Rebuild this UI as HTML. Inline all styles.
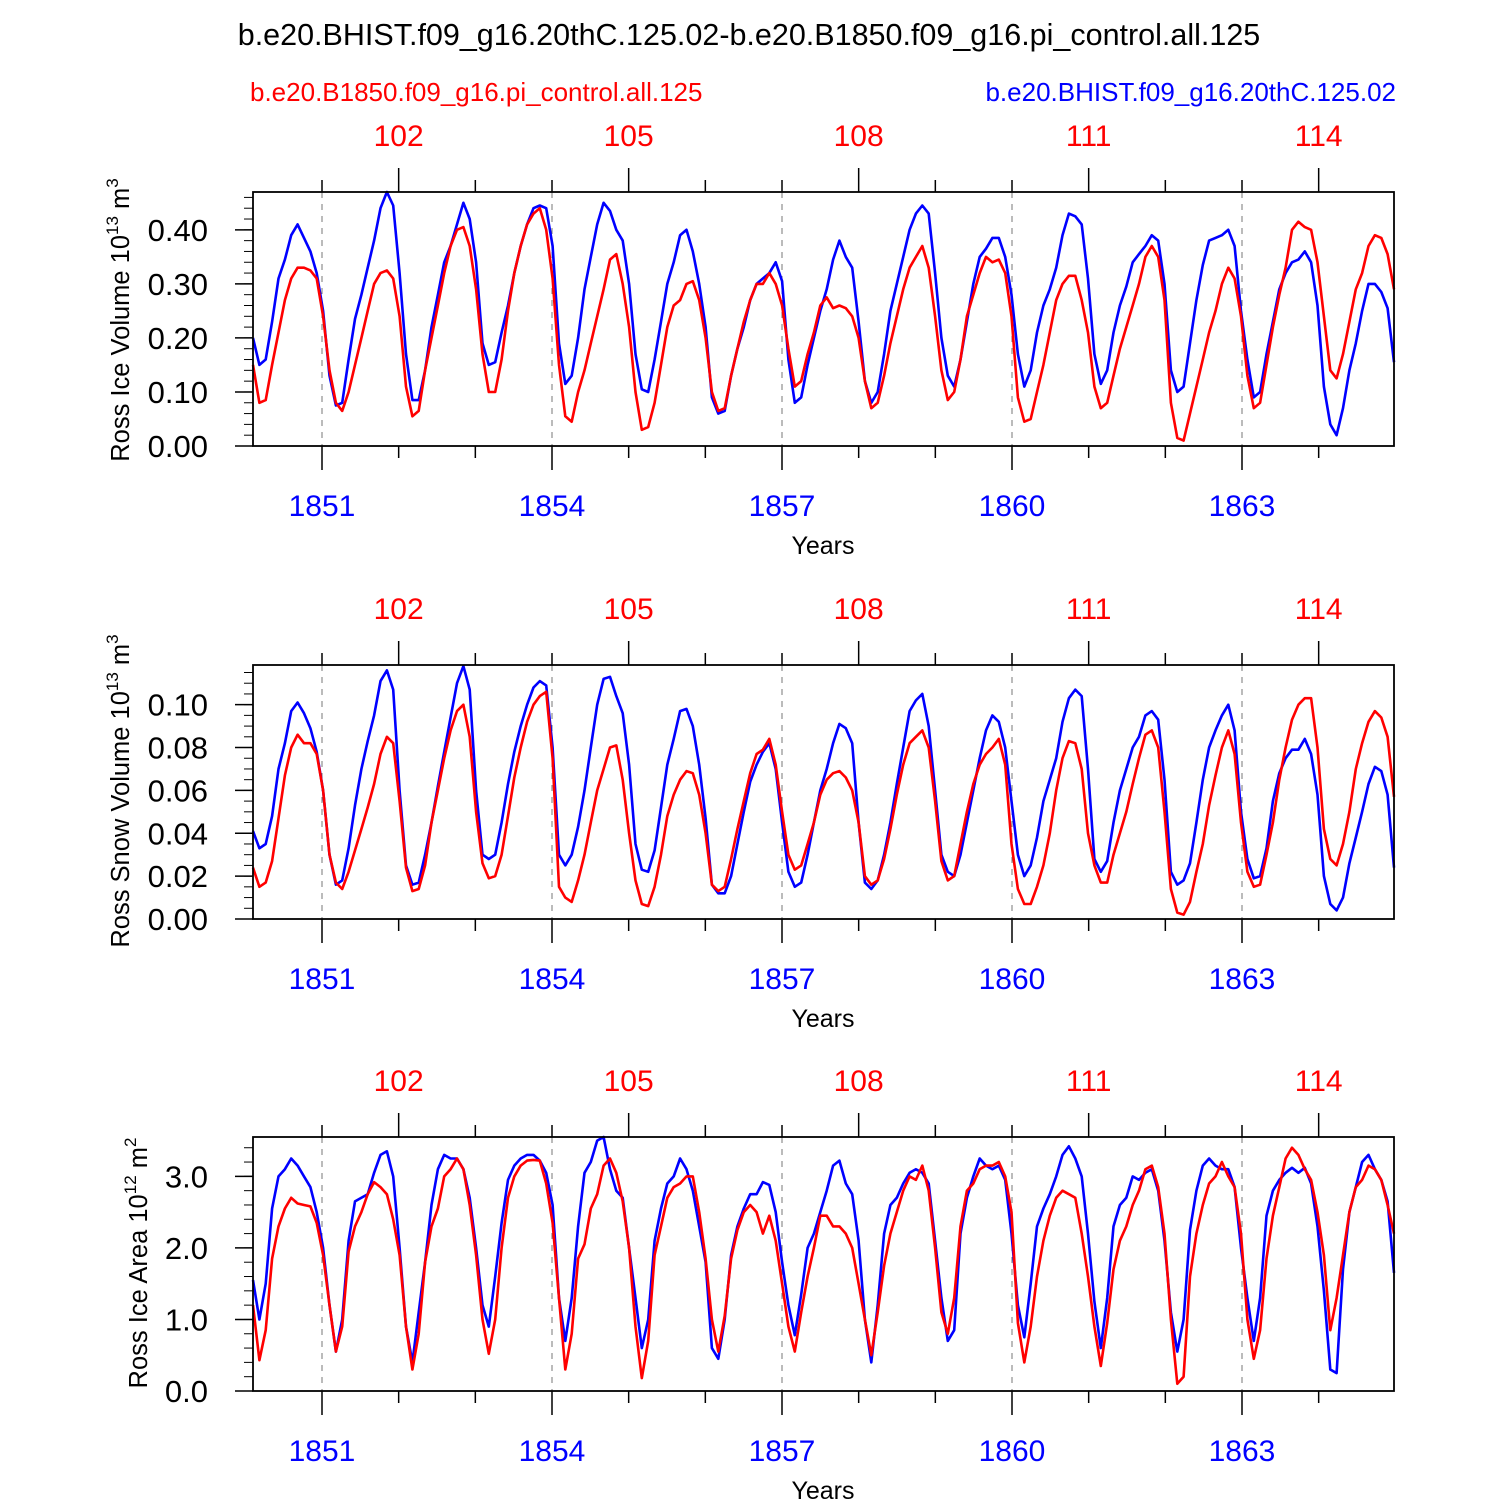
<!DOCTYPE html>
<html><head><meta charset="utf-8"><style>
html,body{margin:0;padding:0;background:#fff}
svg{display:block}
text{font-family:"Liberation Sans",Arial,sans-serif}
</style></head><body>
<svg id="chart" width="1500" height="1500" viewBox="0 0 1500 1500" xmlns="http://www.w3.org/2000/svg">
<text x="749" y="45" font-size="30.5" text-anchor="middle">b.e20.BHIST.f09_g16.20thC.125.02-b.e20.B1850.f09_g16.pi_control.all.125</text>
<text x="250" y="101" font-size="26" fill="#ff0000">b.e20.B1850.f09_g16.pi_control.all.125</text>
<text x="1396" y="101" font-size="26" fill="#0000ff" text-anchor="end">b.e20.BHIST.f09_g16.20thC.125.02</text>
</svg>
<script>
// ---- data ----
const blueYears = [1851, 1854, 1857, 1860, 1863];
const redYears = [102, 105, 108, 111, 114];
const iceVolTicks = ["0.00","0.10","0.20","0.30","0.40"];
const snowVolTicks = ["0.00","0.02","0.04","0.06","0.08","0.10"];
const areaTicks = ["0.0","1.0","2.0","3.0"];

const iceVolHist = [
0.20,0.15,0.16,0.23,0.31,0.345,0.39,0.41,0.385,0.36,0.32,0.25,
0.13,0.075,0.08,0.16,0.235,0.28,0.33,0.38,0.44,0.47,0.445,0.32,
0.17,0.085,0.085,0.14,0.22,0.28,0.34,0.37,0.41,0.45,0.42,0.34,
0.19,0.15,0.155,0.21,0.26,0.32,0.37,0.41,0.44,0.445,0.44,0.37,
0.19,0.115,0.13,0.2,0.29,0.35,0.41,0.45,0.435,0.40,0.38,0.30,
0.17,0.105,0.10,0.16,0.23,0.30,0.34,0.39,0.40,0.36,0.30,0.22,
0.09,0.06,0.065,0.13,0.18,0.22,0.27,0.30,0.31,0.32,0.34,0.305,
0.16,0.08,0.09,0.15,0.20,0.25,0.29,0.345,0.38,0.35,0.33,0.23,
0.12,0.08,0.10,0.17,0.25,0.30,0.35,0.40,0.43,0.445,0.43,0.32,
0.20,0.13,0.11,0.16,0.23,0.30,0.35,0.365,0.385,0.385,0.35,0.28,
0.17,0.11,0.14,0.21,0.26,0.29,0.33,0.39,0.43,0.425,0.41,0.31,
0.17,0.115,0.14,0.21,0.26,0.295,0.34,0.355,0.37,0.39,0.38,0.30,
0.14,0.10,0.11,0.19,0.27,0.335,0.38,0.385,0.39,0.40,0.37,0.25,
0.16,0.09,0.10,0.17,0.23,0.29,0.32,0.34,0.345,0.36,0.34,0.26,
0.11,0.04,0.02,0.07,0.14,0.19,0.25,0.30,0.30,0.285,0.255,0.155];
const iceVolCtrl = [
0.15,0.08,0.085,0.15,0.21,0.27,0.31,0.33,0.33,0.325,0.31,0.24,
0.14,0.08,0.065,0.1,0.15,0.2,0.25,0.3,0.32,0.325,0.31,0.24,
0.11,0.055,0.065,0.14,0.2,0.26,0.32,0.37,0.40,0.405,0.37,0.29,
0.17,0.10,0.10,0.16,0.25,0.32,0.37,0.41,0.43,0.44,0.40,0.31,
0.15,0.055,0.045,0.10,0.14,0.19,0.24,0.29,0.345,0.355,0.30,0.22,
0.10,0.03,0.035,0.08,0.15,0.22,0.26,0.27,0.30,0.305,0.27,0.20,
0.10,0.065,0.07,0.13,0.18,0.23,0.27,0.30,0.30,0.32,0.30,0.26,
0.18,0.11,0.12,0.17,0.21,0.26,0.275,0.255,0.26,0.255,0.24,0.2,
0.12,0.07,0.08,0.13,0.19,0.24,0.29,0.33,0.35,0.37,0.33,0.24,
0.14,0.085,0.10,0.16,0.24,0.28,0.32,0.35,0.34,0.345,0.32,0.24,
0.09,0.045,0.05,0.10,0.15,0.21,0.27,0.30,0.315,0.315,0.27,0.21,
0.11,0.07,0.08,0.13,0.18,0.22,0.26,0.30,0.35,0.37,0.35,0.27,
0.08,0.015,0.01,0.06,0.11,0.16,0.21,0.25,0.30,0.33,0.31,0.24,
0.13,0.07,0.08,0.15,0.22,0.28,0.33,0.40,0.415,0.405,0.40,0.34,
0.24,0.14,0.125,0.17,0.23,0.29,0.32,0.37,0.39,0.385,0.355,0.29];

const snowVolHist = [
0.041,0.033,0.035,0.048,0.07,0.082,0.097,0.101,0.096,0.089,0.078,0.06,
0.03,0.016,0.018,0.033,0.053,0.07,0.083,0.095,0.111,0.116,0.107,0.06,
0.025,0.016,0.017,0.03,0.045,0.062,0.078,0.094,0.11,0.118,0.107,0.06,
0.03,0.028,0.03,0.045,0.063,0.078,0.09,0.1,0.108,0.111,0.109,0.08,
0.03,0.025,0.03,0.043,0.06,0.08,0.1,0.112,0.113,0.104,0.096,0.072,
0.035,0.023,0.022,0.032,0.052,0.072,0.084,0.097,0.098,0.09,0.072,0.047,
0.016,0.012,0.012,0.02,0.035,0.05,0.064,0.072,0.078,0.082,0.07,0.045,
0.022,0.015,0.017,0.03,0.045,0.06,0.07,0.082,0.091,0.089,0.082,0.045,
0.017,0.014,0.018,0.03,0.045,0.063,0.08,0.097,0.102,0.105,0.09,0.06,
0.03,0.022,0.02,0.03,0.045,0.06,0.075,0.088,0.095,0.092,0.08,0.055,
0.03,0.02,0.025,0.038,0.055,0.065,0.075,0.092,0.103,0.107,0.104,0.07,
0.028,0.022,0.027,0.045,0.06,0.07,0.08,0.085,0.095,0.097,0.093,0.065,
0.022,0.016,0.018,0.026,0.045,0.065,0.08,0.088,0.095,0.1,0.088,0.05,
0.028,0.019,0.02,0.033,0.055,0.068,0.075,0.079,0.079,0.084,0.077,0.058,
0.02,0.007,0.004,0.01,0.026,0.038,0.05,0.063,0.071,0.069,0.058,0.024];
const snowVolCtrl = [
0.024,0.015,0.017,0.027,0.047,0.067,0.08,0.086,0.082,0.082,0.077,0.06,
0.03,0.017,0.014,0.022,0.032,0.042,0.052,0.063,0.077,0.085,0.082,0.055,
0.024,0.013,0.014,0.025,0.045,0.06,0.075,0.088,0.097,0.1,0.085,0.05,
0.026,0.019,0.02,0.03,0.048,0.066,0.08,0.092,0.1,0.104,0.106,0.075,
0.015,0.01,0.008,0.018,0.03,0.045,0.06,0.07,0.08,0.081,0.065,0.04,
0.018,0.007,0.006,0.015,0.03,0.048,0.058,0.065,0.069,0.068,0.058,0.04,
0.016,0.013,0.015,0.028,0.042,0.055,0.068,0.077,0.079,0.084,0.072,0.05,
0.03,0.023,0.025,0.035,0.045,0.058,0.065,0.068,0.069,0.066,0.06,0.045,
0.02,0.016,0.018,0.028,0.042,0.058,0.072,0.082,0.085,0.088,0.08,0.055,
0.027,0.018,0.02,0.035,0.05,0.063,0.072,0.077,0.08,0.084,0.072,0.035,
0.014,0.007,0.007,0.015,0.025,0.04,0.06,0.075,0.083,0.082,0.07,0.04,
0.025,0.017,0.017,0.03,0.04,0.05,0.063,0.075,0.086,0.088,0.08,0.05,
0.014,0.003,0.002,0.008,0.022,0.035,0.053,0.067,0.08,0.088,0.077,0.045,
0.022,0.015,0.016,0.03,0.045,0.065,0.08,0.093,0.1,0.103,0.103,0.08,
0.042,0.028,0.025,0.035,0.05,0.07,0.082,0.092,0.097,0.094,0.085,0.057];

const areaHist = [
1.55,1.0,1.5,2.55,3.0,3.1,3.25,3.15,3.0,2.85,2.5,2.0,
1.2,0.55,1.0,2.1,2.65,2.7,2.75,3.05,3.3,3.35,3.0,2.0,
0.9,0.4,1.1,1.8,2.6,3.1,3.3,3.25,3.25,3.1,2.7,2.0,
1.2,0.9,1.6,2.35,2.95,3.15,3.25,3.3,3.3,3.22,3.05,2.6,
1.3,0.7,1.3,2.3,3.05,3.2,3.5,3.55,3.1,2.8,2.7,2.0,
1.3,0.6,1.0,2.1,2.55,2.9,3.0,3.25,3.1,2.8,2.3,1.8,
0.6,0.45,1.0,1.9,2.3,2.55,2.75,2.75,2.92,2.88,2.5,1.8,
1.2,0.78,1.35,2.0,2.2,2.5,2.8,3.15,3.22,2.9,2.75,2.1,
1.0,0.4,1.2,2.2,2.6,2.7,2.9,3.05,3.1,3.05,2.9,2.1,
1.3,0.7,0.85,2.2,2.7,3.0,3.25,3.15,3.1,3.15,2.95,2.2,
1.2,0.75,1.5,2.3,2.55,2.75,3.0,3.3,3.42,3.25,3.0,2.2,
1.25,0.6,1.3,2.3,2.6,2.7,3.0,2.95,3.05,3.1,2.8,2.1,
1.1,0.55,1.0,2.25,2.8,3.15,3.25,3.15,3.1,3.1,2.85,2.0,
1.3,0.7,1.3,2.45,2.8,2.95,3.05,3.12,3.05,3.12,2.9,2.3,
1.4,0.3,0.25,1.7,2.5,2.85,3.2,3.3,3.1,2.95,2.65,1.65];
const areaCtrl = [
1.2,0.43,0.85,1.85,2.3,2.55,2.7,2.62,2.6,2.58,2.35,1.9,
1.2,0.55,0.9,1.95,2.3,2.5,2.75,2.92,2.85,2.75,2.4,1.9,
0.9,0.3,0.8,1.8,2.3,2.55,3.0,3.1,3.25,3.1,2.6,1.9,
1.0,0.52,1.0,2.0,2.7,3.0,3.15,3.22,3.23,3.22,2.9,2.35,
1.3,0.3,0.8,1.85,2.05,2.55,2.75,3.15,3.25,3.05,2.65,2.0,
0.9,0.18,0.7,1.9,2.3,2.7,2.85,2.9,3.0,3.0,2.5,1.85,
1.0,0.55,1.05,1.85,2.25,2.5,2.6,2.5,2.2,2.45,2.1,1.5,
0.9,0.55,1.1,1.6,2.0,2.45,2.45,2.3,2.3,2.2,2.0,1.5,
1.0,0.5,1.1,1.75,2.2,2.5,2.8,3.0,2.95,3.15,2.8,2.0,
1.1,0.8,1.3,2.3,2.8,2.9,3.1,3.15,3.15,3.2,3.0,2.5,
0.95,0.4,0.9,1.6,2.1,2.45,2.7,2.8,2.75,2.7,2.2,1.6,
0.9,0.35,0.95,1.7,2.1,2.3,2.6,2.8,3.1,3.15,2.85,2.2,
1.0,0.1,0.2,1.6,2.2,2.6,2.9,3.0,3.2,3.0,2.85,2.2,
1.0,0.45,0.85,1.85,2.45,2.85,3.25,3.4,3.3,3.1,2.95,2.5,
1.9,0.85,1.3,1.9,2.5,2.85,2.95,3.15,3.1,2.95,2.6,2.2];

// ---- drawing ----
const NS = "http://www.w3.org/2000/svg";
const svg = document.getElementById("chart");
const X0 = 253, X1 = 1394;
const NPTS = 180;
function xIdx(i){ return X0 + i*(X1-X0)/(NPTS-1); }
const yearPx = 230/3;
function xYear(yr){ return 322 + (yr-1851)*yearPx; }
function mk(tag, attrs){
  const e = document.createElementNS(NS, tag);
  for (const k in attrs) e.setAttribute(k, attrs[k]);
  svg.appendChild(e);
  return e;
}

function drawPanel(p){
  const top = p.top, bot = p.top + 254;
  const yv = v => bot - (v - 0) / p.ymax * (bot - top);
  blueYears.forEach(yr => {
    const g = mk("line", {x1:xYear(yr), x2:xYear(yr), y1:top, y2:bot, stroke:"#777", "stroke-width":1, "stroke-dasharray":"6,6"});
    
    
  });
  for (let yr = 1851; yr <= 1864; yr++){
    const major = (yr - 1851) % 3 === 0;
    const xx = xYear(yr);
    const tb = mk("line", {x1:xx, x2:xx, y1:bot, y2:bot + (major?24:12), stroke:"#000", "stroke-width":1.5});
    
    
    const redMajor = (yr - 1852) % 3 === 0;
    const tt = mk("line", {x1:xx, x2:xx, y1:top, y2:top - (redMajor?24:12), stroke:"#000", "stroke-width":1.5});
    
    
  }
  blueYears.forEach(yr => {
    const t = mk("text", {x:xYear(yr), y:bot + 70, "font-size":30, fill:"#0000ff", "text-anchor":"middle"});
    t.textContent = yr;
    
    
  });
  redYears.forEach(yr => {
    const t = mk("text", {x:xYear(yr + 1750), y:top - 46, "font-size":30, fill:"#ff0000", "text-anchor":"middle"});
    t.textContent = yr;
    
    
  });
  const xt = mk("text", {x:823, y:bot + 108, "font-size":25, "text-anchor":"middle"});
  xt.textContent = "Years";
  
  
  for (let v = 0; v <= p.ymax + 1e-9; v += p.minor){
    const mt = mk("line", {x1:X0 - 9, x2:X0, y1:yv(v), y2:yv(v), stroke:"#000", "stroke-width":1});
    
    
  }
  p.ticks.forEach(lbl => {
    const v = parseFloat(lbl);
    const t = mk("line", {x1:X0 - 18, x2:X0, y1:yv(v), y2:yv(v), stroke:"#000", "stroke-width":1.5});
    
    
    const tx = mk("text", {x:X0 - 45, y:yv(v) + 11, "font-size":31, "text-anchor":"end"});
    tx.textContent = lbl;
    
    
  });
  [[p.hist, "#0000ff", "hist-series-line"], [p.ctrl, "#ff0000", "control-series-line"]].forEach(([arr, col, nm]) => {
    const d = arr.map((v, i) => (i ? "L" : "M") + xIdx(i).toFixed(1) + "," + yv(v).toFixed(1)).join(" ");
    const pl = mk("path", {d:d, fill:"none", stroke:col, "stroke-width":2.6, "stroke-linejoin":"round"});
    
    
  });
  const fr = mk("rect", {x:X0, y:top, width:X1 - X0, height:bot - top, fill:"none", stroke:"#000", "stroke-width":1.8});
  
  
  const cy = p.tcy;
  const yt = mk("text", {x:0, y:0, "font-size":25.5, "text-anchor":"middle", transform:"translate(" + p.ytx + "," + cy + ") rotate(-90)"});
  yt.innerHTML = p.title + ' 10<tspan font-size="17" dy="-11">' + p.e1 + '</tspan><tspan dy="11"> m</tspan><tspan font-size="17" dy="-11">' + p.e2 + '</tspan>';
  
  
}

drawPanel({top:192, ymax:0.47, minor:0.02, ticks:iceVolTicks, hist:iceVolHist, ctrl:iceVolCtrl, title:"Ross Ice Volume", e1:"13", e2:"3", ytx:129, tcy:320});
drawPanel({top:665, ymax:0.1185, minor:0.005, ticks:snowVolTicks, hist:snowVolHist, ctrl:snowVolCtrl, title:"Ross Snow Volume", e1:"13", e2:"3", ytx:129, tcy:791});
drawPanel({top:1137, ymax:3.55, minor:0.2, ticks:areaTicks, hist:areaHist, ctrl:areaCtrl, title:"Ross Ice Area", e1:"12", e2:"2", ytx:147, tcy:1263});
</script>
</body></html>
